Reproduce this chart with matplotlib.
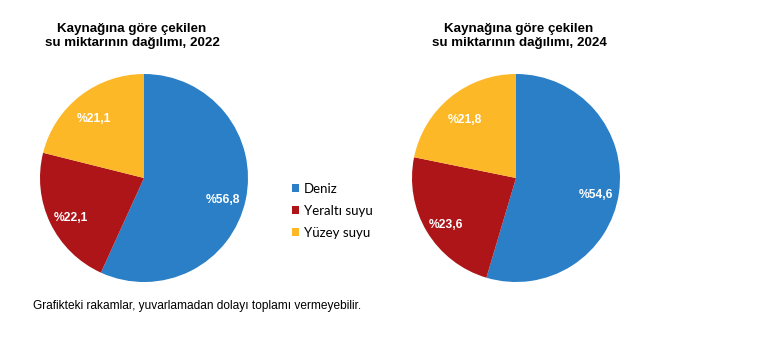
import matplotlib
matplotlib.use("Agg")
import matplotlib.pyplot as plt

categories = ["Deniz", "Yeraltı suyu", "Yüzey suyu"]
values_2022 = [56.8, 22.1, 21.1]
values_2024 = [54.6, 23.6, 21.8]
titles = ["Kaynağına göre çekilen\nsu miktarının dağılımı, 2022",
          "Kaynağına göre çekilen\nsu miktarının dağılımı, 2024"]
colors = ["#2A7FC6", "#AE1518", "#FDB827"]
footnote = "Grafikteki rakamlar, yuvarlamadan dolayı toplamı vermeyebilir."

W, H = 761, 339
fig = plt.figure(figsize=(W/100, H/100), dpi=100)

def add_pie(cx, cy, r, vals, title, tx):
    ax = fig.add_axes([(cx - r)/W, (H - cy - r)/H, 2*r/W, 2*r/H])
    wedges, texts, autotexts = ax.pie(
        vals, colors=colors, startangle=90, counterclock=False,
        autopct=lambda p: "%" + f"{p:.1f}".replace(".", ","),
        pctdistance=0.78, radius=1.0,
        wedgeprops=dict(linewidth=0),
        textprops=dict(color="white", fontsize=8.7, fontweight="bold",
                       family="Liberation Sans"))
    for t in autotexts:
        x, y = t.get_position()
        t.set_position((x, y - 0.05))
    ax.set_xlim(-1, 1); ax.set_ylim(-1, 1)
    ax.set_aspect("equal")
    ax.axis("off")
    fig.text(tx/W, (H - 36)/H, title, ha="center", va="center",
             fontsize=9.6, fontweight="bold", family="Liberation Sans",
             linespacing=1.15)
    return wedges

w1 = add_pie(144, 178, 104, values_2022, titles[0], 132)
add_pie(516, 178, 104, values_2024, titles[1], 519)

fig.legend(w1, categories, loc="upper left", bbox_to_anchor=(280/W, (H - 171)/H),
           frameon=False, handlelength=0.55, handleheight=0.55,
           handletextpad=0.35, labelspacing=0.75, prop=dict(family="Lato", size=9.5))

fig.text(33/W, (H - 306)/H, footnote, ha="left", va="center",
         fontsize=8.6, family="Liberation Sans")

fig.savefig("out.png", dpi=100)
